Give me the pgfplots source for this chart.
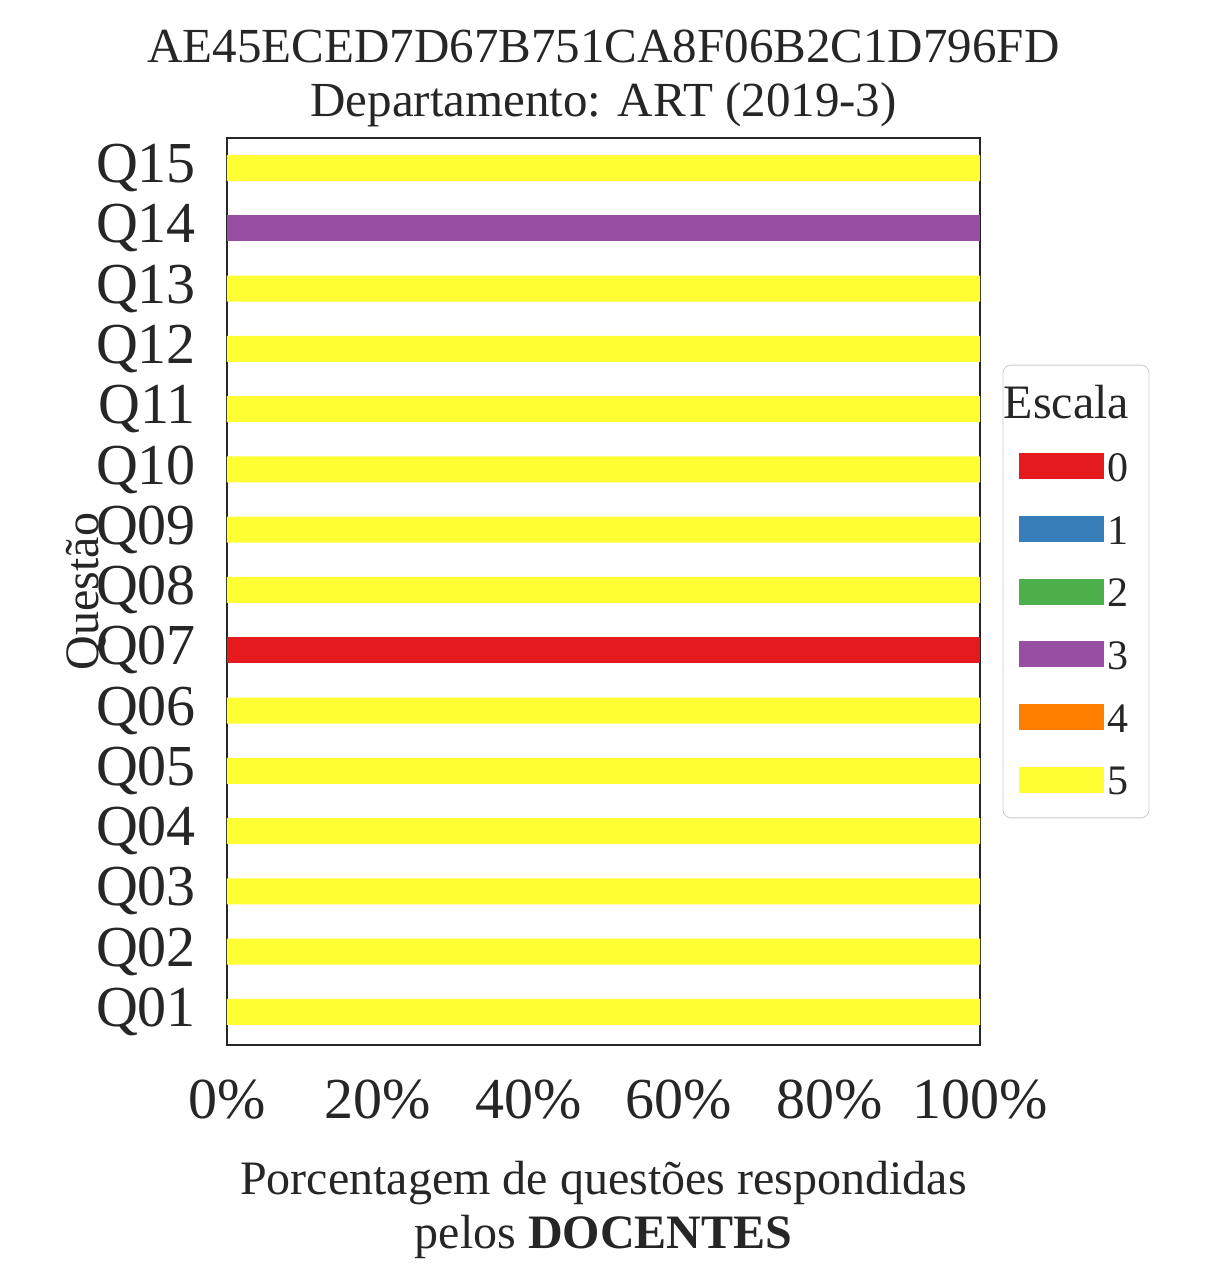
\documentclass[border=0pt]{standalone}
\usepackage{pgfplots}
\pgfplotsset{compat=1.18}
\usepackage{fontspec}
\setmainfont{Liberation Serif}
\definecolor{c0}{HTML}{E41A1C}
\definecolor{c1}{HTML}{377EB8}
\definecolor{c2}{HTML}{4DAF4A}
\definecolor{c3}{HTML}{984EA3}
\definecolor{c4}{HTML}{FF7F00}
\definecolor{c5}{HTML}{FFFF33}
\definecolor{fr}{HTML}{262626}
\begin{document}
\begin{tikzpicture}
\useasboundingbox (-113.5pt,-115pt) rectangle (493pt,522.5pt);
\begin{axis}[at={(0,0)},anchor=south west,scale only axis,
 width=376.5pt,height=453.5pt,
 xbar stacked, bar width=13pt,
 xmin=0,xmax=100,ymin=0.45,ymax=15.5,
 axis line style={fr,line width=1.2pt},
 ytick={1,...,15},
 yticklabels={Q01,Q02,Q03,Q04,Q05,Q06,Q07,Q08,Q09,Q10,Q11,Q12,Q13,Q14,Q15},
 xtick={0,20,40,60,80,100},
 xticklabel={\pgfmathprintnumber{\tick}\%},
 /pgf/number format/assume math mode=true,
 tick style={draw=none},
 ticklabel style={font=\fontsize{29}{32}\selectfont,text=fr},
 xticklabel style={yshift=-14pt},
 yticklabel style={xshift=-12pt},
 ylabel={Questão}, ylabel style={font=\fontsize{24}{27}\selectfont,text=fr,yshift=-12pt},
 xlabel={Porcentagem de questões respondidas\\pelos \textbf{DOCENTES}},
 xlabel style={font=\fontsize{24}{27}\selectfont,text=fr,align=center,yshift=-14pt},
 title={AE45ECED7D67B751CA8F06B2C1D796FD\\Departamento: ART (2019-3)},
 title style={font=\fontsize{24.5}{27}\selectfont,text=fr,align=center,yshift=-4pt},
 legend style={at={(1.03,0.5)},anchor=west,font=\fontsize{21}{24}\selectfont,
   draw=black!20,rounded corners=4pt,row sep=12pt,inner xsep=8pt,inner ysep=8pt,text=fr,
   /tikz/every even column/.append style={column sep=12pt}},
 legend cell align=right,
 legend image code/.code={\fill[#1,sharp corners] (0pt,-5pt) rectangle (42.5pt,8pt);},
]
\addlegendimage{empty legend}\addlegendentry{\hspace{-58pt}\fontsize{24}{27}\selectfont Escala}
\addplot[fill=c0,draw=none] coordinates {(0,1)(0,2)(0,3)(0,4)(0,5)(0,6)(100,7)(0,8)(0,9)(0,10)(0,11)(0,12)(0,13)(0,14)(0,15)};
\addlegendentry{0}
\addplot[fill=c1,draw=none] coordinates {(0,1)(0,2)(0,3)(0,4)(0,5)(0,6)(0,7)(0,8)(0,9)(0,10)(0,11)(0,12)(0,13)(0,14)(0,15)};
\addlegendentry{1}
\addplot[fill=c2,draw=none] coordinates {(0,1)(0,2)(0,3)(0,4)(0,5)(0,6)(0,7)(0,8)(0,9)(0,10)(0,11)(0,12)(0,13)(0,14)(0,15)};
\addlegendentry{2}
\addplot[fill=c3,draw=none] coordinates {(0,1)(0,2)(0,3)(0,4)(0,5)(0,6)(0,7)(0,8)(0,9)(0,10)(0,11)(0,12)(0,13)(100,14)(0,15)};
\addlegendentry{3}
\addplot[fill=c4,draw=none] coordinates {(0,1)(0,2)(0,3)(0,4)(0,5)(0,6)(0,7)(0,8)(0,9)(0,10)(0,11)(0,12)(0,13)(0,14)(0,15)};
\addlegendentry{4}
\addplot[fill=c5,draw=none] coordinates {(100,1)(100,2)(100,3)(100,4)(100,5)(100,6)(0,7)(100,8)(100,9)(100,10)(100,11)(100,12)(100,13)(0,14)(100,15)};
\addlegendentry{5}
\end{axis}
\end{tikzpicture}
\end{document}
